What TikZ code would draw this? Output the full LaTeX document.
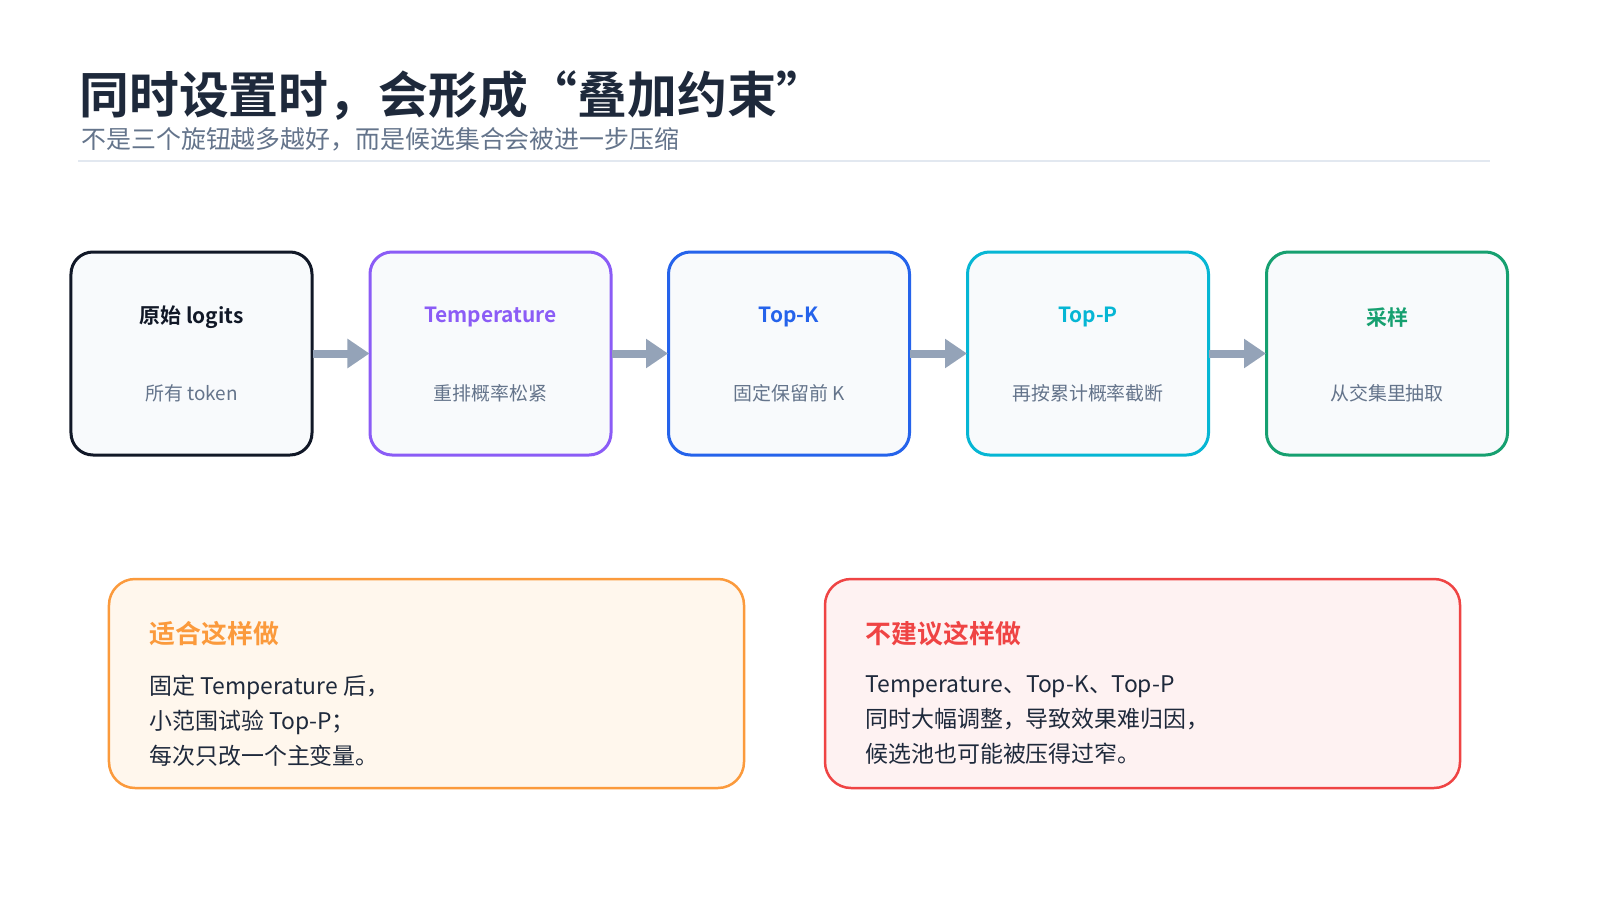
\documentclass[tikz,border=0pt]{standalone}
\usepackage{fontspec}
\setmainfont{Noto Sans CJK SC}[BoldFont={Noto Sans CJK SC Bold}]
\usetikzlibrary{arrows.meta}
\definecolor{ink}{HTML}{1E293B}
\definecolor{muted}{HTML}{64748B}
\definecolor{rule}{HTML}{E2E8F0}
\definecolor{boxfill}{HTML}{F8FAFC}
\definecolor{cA}{HTML}{111827}
\definecolor{cB}{HTML}{8B5CF6}
\definecolor{cC}{HTML}{2563EB}
\definecolor{cD}{HTML}{06B6D4}
\definecolor{cE}{HTML}{16A070}
\definecolor{arr}{HTML}{94A3B8}
\definecolor{orng}{HTML}{FB9A3C}
\definecolor{orfill}{HTML}{FFF7ED}
\definecolor{rd}{HTML}{EF4444}
\definecolor{rdfill}{HTML}{FEF2F2}
\begin{document}
\begin{tikzpicture}[x=1bp,y=-1bp,
  step/.style={draw=#1,line width=3bp,fill=boxfill,rounded corners=22bp,minimum width=241bp,minimum height=203bp,inner sep=0pt},
  stitle/.style={font=\fontsize{21}{24}\selectfont\bfseries,anchor=center},
  ssub/.style={font=\fontsize{19}{22}\selectfont,text=muted,anchor=center},
  flow/.style={draw=arr,line width=8bp,-{Triangle[length=22bp,width=28bp]},shorten <=-1pt,shorten >=-1pt},
  note/.style={line width=2.5bp,rounded corners=26bp,minimum width=635bp,minimum height=209bp,inner sep=0pt},
  ntitle/.style={font=\fontsize{26}{30}\selectfont\bfseries,anchor=west},
  nbody/.style={font=\fontsize{23}{35}\selectfont,text=ink,anchor=north west,align=left}]
\useasboundingbox (0,0) rectangle (1600,900);
\fill[white] (0,0) rectangle (1600,900);
\node[anchor=west,font=\fontsize{50}{56}\selectfont\bfseries,text=ink] (title) at (76,96) {同时设置时，会形成“叠加约束”};
\node[anchor=west,font=\fontsize{25}{28}\selectfont,text=muted] (sub) at (78,139) {不是三个旋钮越多越好，而是候选集合会被进一步压缩};
\draw[rule,line width=2bp] (78,161) -- (1490,161);

\node[step=cA] (b1) at (191.5,353.5) {};
\node[step=cB] (b2) at (490.5,353.5) {};
\node[step=cC] (b3) at (789,353.5) {};
\node[step=cD] (b4) at (1088,353.5) {};
\node[step=cE] (b5) at (1387,353.5) {};
\node[stitle,text=cA] (t1) at (191.5,317) {原始 logits};
\node[ssub] (s1) at (191.5,393) {所有 token};
\node[stitle,text=cB] (t2) at (490.5,317) {Temperature};
\node[ssub] (s2) at (490.5,393) {重排概率松紧};
\node[stitle,text=cC] (t3) at (789,317) {Top-K};
\node[ssub] (s3) at (789,393) {固定保留前 K};
\node[stitle,text=cD] (t4) at (1088,317) {Top-P};
\node[ssub] (s4) at (1088,393) {再按累计概率截断};
\node[stitle,text=cE] (t5) at (1387,317) {采样};
\node[ssub] (s5) at (1387,393) {从交集里抽取};
\draw[flow] (b1.east) -- (b2.west);
\draw[flow] (b2.east) -- (b3.west);
\draw[flow] (b3.east) -- (b4.west);
\draw[flow] (b4.east) -- (b5.west);

\node[note,draw=orng,fill=orfill] (n1) at (426.5,683.5) {};
\node[note,draw=rd,fill=rdfill] (n2) at (1142.5,683.5) {};
\node[ntitle,text=orng] (nt1) at (146,634) {适合这样做};
\node[nbody] (nb1) at (146,672) {固定 Temperature 后，\\小范围试验 Top-P；\\每次只改一个主变量。};
\node[ntitle,text=rd] (nt2) at (862,634) {不建议这样做};
\node[nbody] (nb2) at (862,672) {Temperature、Top-K、Top-P\\同时大幅调整，导致效果难归因，\\候选池也可能被压得过窄。};
\end{tikzpicture}
\end{document}
